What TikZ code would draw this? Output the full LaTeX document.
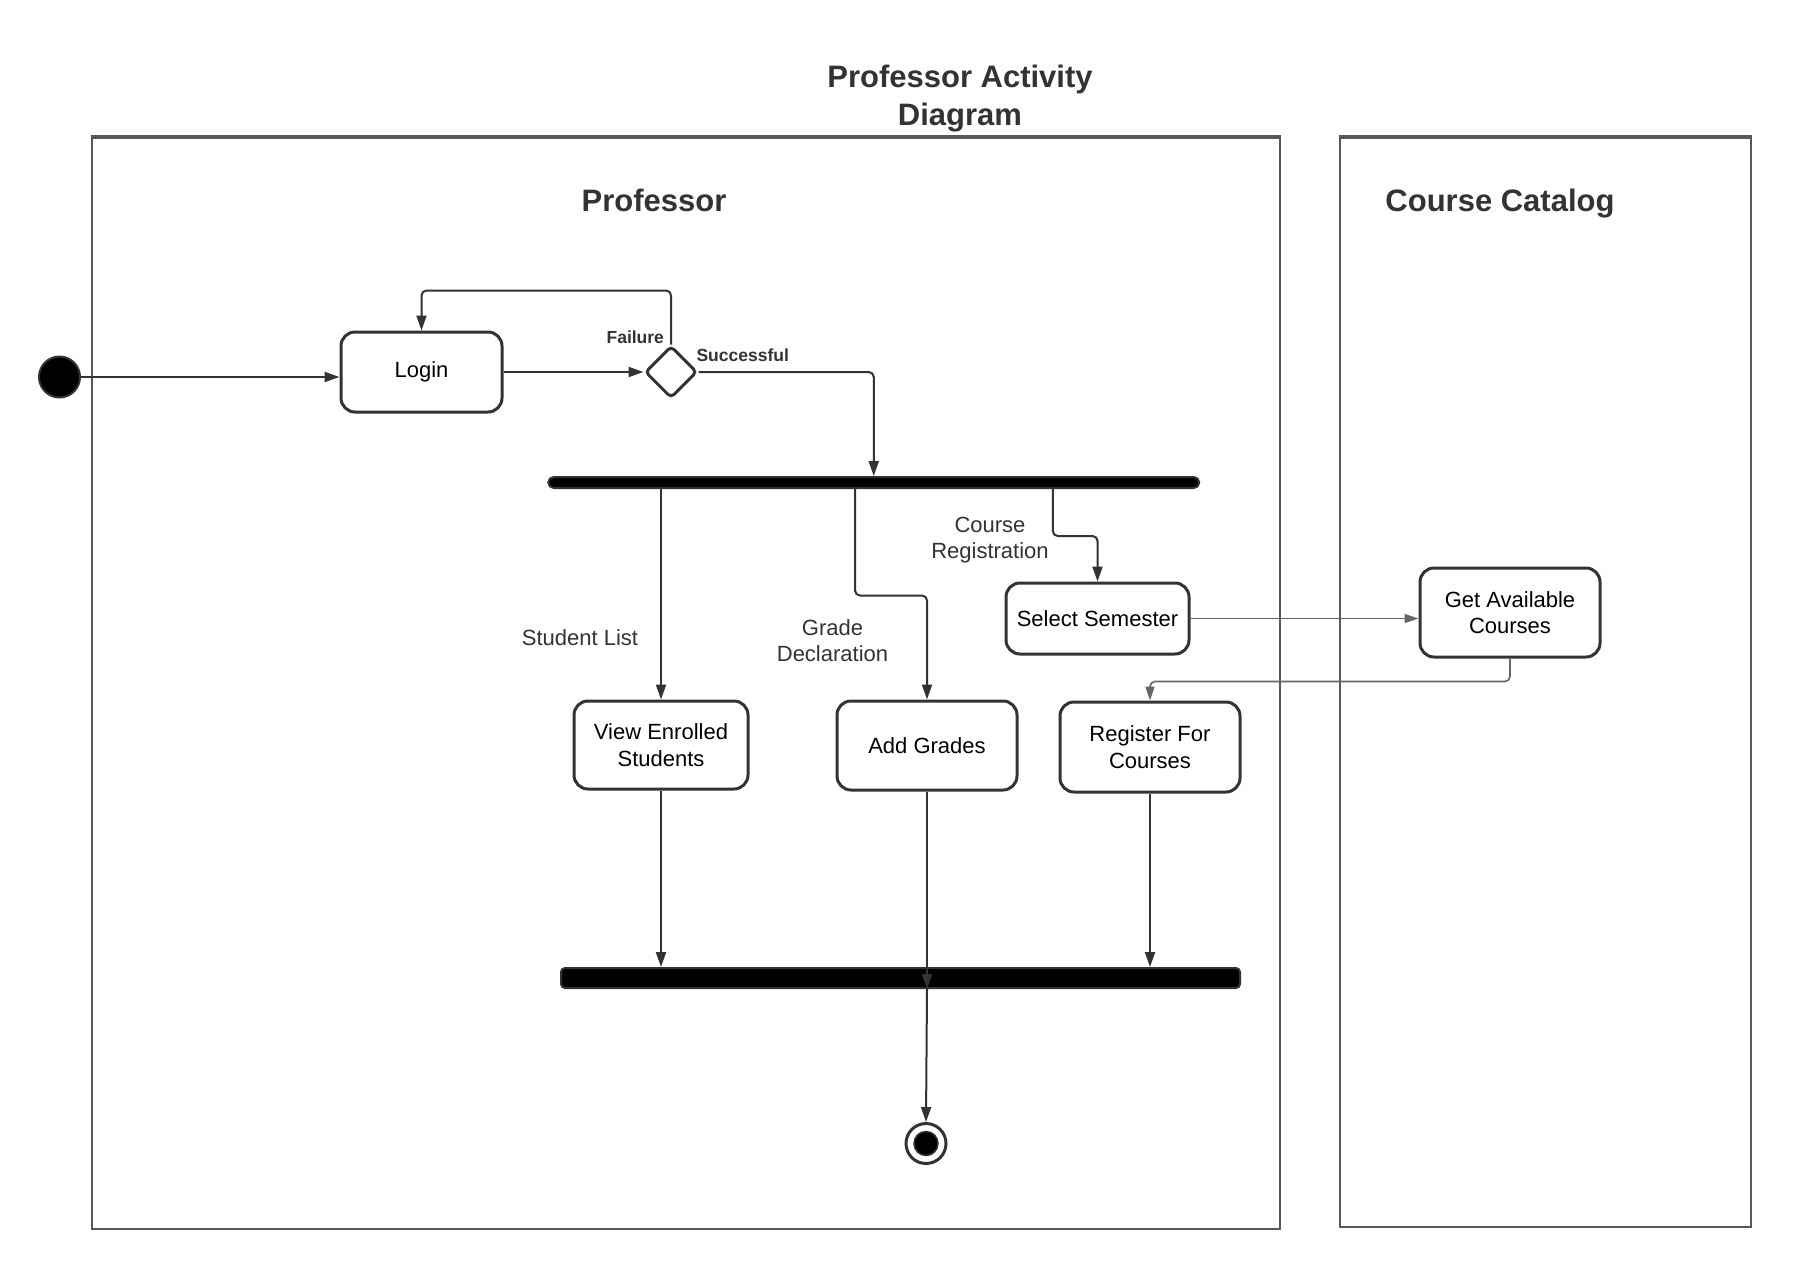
\documentclass[tikz,border=0pt]{standalone}
\usepackage{fontspec}
\setmainfont{Liberation Sans}
\usetikzlibrary{arrows.meta,shapes.geometric,calc}
\definecolor{lineC}{HTML}{333333}
\definecolor{laneC}{HTML}{595959}
\definecolor{lightC}{HTML}{666666}
\begin{document}
\begin{tikzpicture}[x=1pt,y=-1pt,
  act/.style={draw=lineC, line width=3pt, rounded corners=14pt, fill=white, align=center,
    font=\fontsize{22}{26.5}\selectfont, inner sep=0pt},
  conn/.style={draw=lineC, line width=2pt, -{Triangle[length=15pt,width=10pt]}, rounded corners=5pt},
  lconn/.style={draw=lightC, line width=1.6pt, -{Triangle[length=14pt,width=9pt]}, rounded corners=5pt},
  lbl/.style={text=lineC, align=center, font=\fontsize{22}{26.5}\selectfont},
  glbl/.style={text=lineC, font=\bfseries\fontsize{17.5}{20}\selectfont},
  ttl/.style={text=lineC, align=center, font=\bfseries\fontsize{31}{38}\selectfont},
  barnode/.style={draw=lineC, fill=black, line width=2pt, inner sep=0pt},
  lane/.style={draw=laneC, line width=2pt}
]
\useasboundingbox (0,0) rectangle (1793,1272);
\fill[white] (0,0) rectangle (1793,1272);

% title
\node[ttl] (title) at (960,99) {Professor Activity\\Diagram};

% swimlanes
\draw[lane] (91.5,137) -- (91.5,1229) -- (1279.5,1229) -- (1279.5,137);
\draw[draw=laneC, line width=4pt] (90.5,137) -- (1280.5,137);
\draw[lane] (1340,137) -- (1340,1227) -- (1751,1227) -- (1751,137);
\draw[draw=laneC, line width=4pt] (1339,137) -- (1752,137);
\node[ttl] (lprof) at (654,200) {Professor};
\node[ttl] (lcat) at (1500,204) {Course Catalog};

% nodes
\node[circle, fill=black, draw=lineC, line width=2pt, minimum size=41pt, inner sep=0pt] (init) at (59.5,377) {};
\node[act, minimum width=161pt, minimum height=80pt] (login) at (421.5,372) {Login};
\node[diamond, draw=lineC, line width=3pt, fill=white, minimum width=52pt, minimum height=52pt, inner sep=0pt, rounded corners=4pt] (dia) at (671,372) {};
\node[barnode, minimum width=651pt, minimum height=11pt, rounded corners=5.5pt] (fork) at (873.75,482.5) {};
\node[act, minimum width=183pt, minimum height=71pt] (sel) at (1097.5,618.5) {Select Semester};
\node[act, minimum width=180pt, minimum height=89pt] (get) at (1510,612.5) {Get Available\\Courses};
\node[act, minimum width=174pt, minimum height=88pt] (view) at (661,745) {View Enrolled\\Students};
\node[act, minimum width=180pt, minimum height=89pt] (add) at (927,745.5) {Add Grades};
\node[act, minimum width=180pt, minimum height=90pt] (reg) at (1150,747) {Register For\\Courses};
\node[barnode, minimum width=679pt, minimum height=20pt, rounded corners=4pt] (join) at (900.5,978) {};
\node[circle, draw=lineC, fill=white, line width=3pt, minimum size=40pt, inner sep=0pt] (final) at (926,1143.5) {};
\node[circle, fill=black, draw=lineC, line width=1.5pt, minimum size=24pt, inner sep=0pt] (finalin) at (final.center) {};

% labels
\node[glbl, anchor=east] (lfail) at (667.5,337) {Failure};
\node[glbl, anchor=west] (lsucc) at (693,355) {Successful};
\node[lbl] (lstud) at (580,638) {Student List};
\node[lbl] (lgrade) at (832.5,640.5) {Grade\\Declaration};
\node[lbl] (lcourse) at (990,540) {Course\\Registration};

% connectors
\draw[conn] (init.east) -- (init.east -| login.west);
\draw[conn] (login.east) -- (dia.west);
\draw[conn] (dia.north) -- ++(0,-54) -| (login.north);
\draw[conn] (dia.east) -| (fork.north);
\draw[conn] (fork.south -| view.north) -- (view.north);
\draw[conn] ([xshift=-18.75pt]fork.south) -- ++(0,106.5) -| (add.north);
\draw[conn] ([xshift=179pt]fork.south) -- ++(0,47) -| (sel.north);
\draw[lconn] (sel.east) -- (sel.east -| get.west);
\draw[lconn] (get.south) -- ++(0,23) -| (reg.north);
\draw[conn] (view.south) -- (view.south |- join.north);
\draw[conn] (reg.south) -- (reg.south |- join.north);
\draw[conn] (add.south) -- (add.south |- join.south);
\draw[conn] (add.south |- join.south) -- (final.north);
\end{tikzpicture}
\end{document}
